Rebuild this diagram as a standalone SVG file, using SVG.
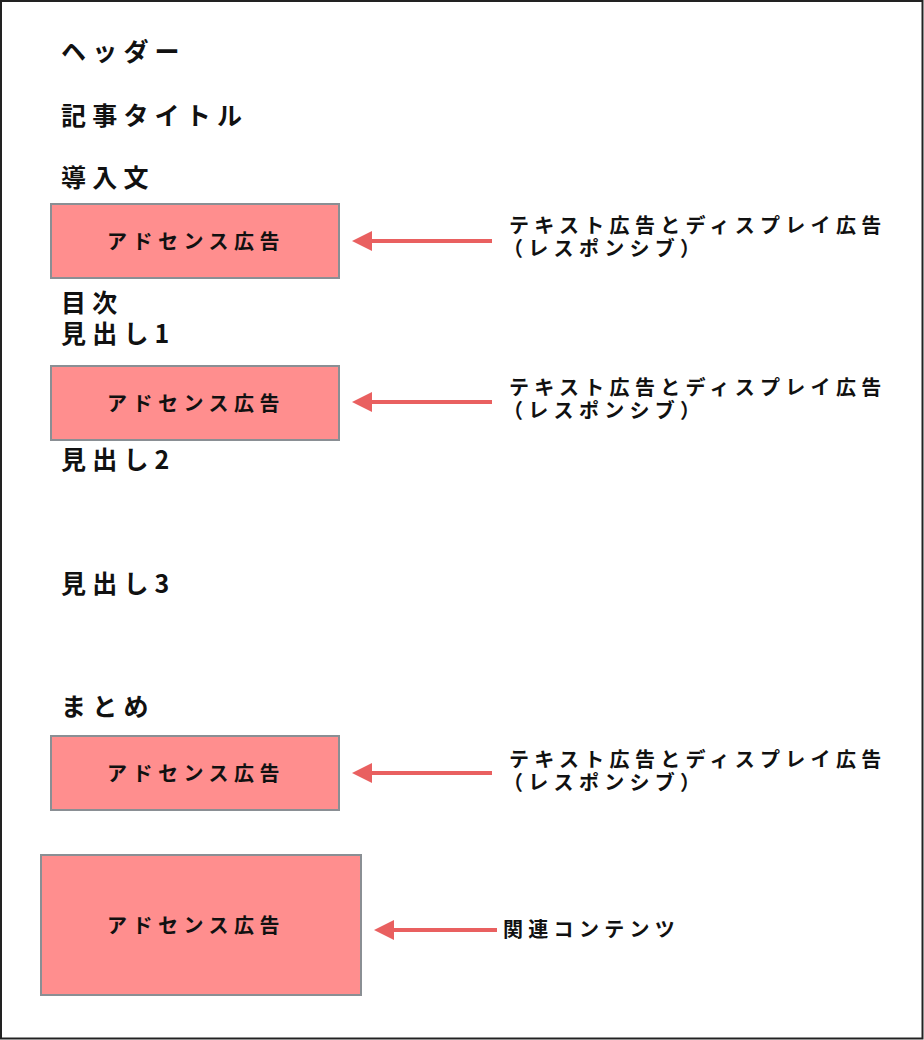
<svg xmlns="http://www.w3.org/2000/svg" width="924" height="1040" viewBox="0 0 924 1040">
<style>
text{font-family:"Noto Sans CJK JP","Noto Sans",sans-serif;font-weight:bold;fill:#111}
.h{font-size:25px;letter-spacing:6.2px}
.b{font-size:20px;letter-spacing:5.5px}
.r{font-size:20px;letter-spacing:5.3px}
.ad{fill:#ff8e8e;stroke:#8a8f94;stroke-width:2}
.arr{stroke:#e96060;stroke-width:4;fill:none;marker-end:url(#ah)}
</style>
<defs>
<marker id="ah" viewBox="0 0 20 20" refX="2" refY="10" markerWidth="20" markerHeight="20" markerUnits="userSpaceOnUse" orient="auto">
<path d="M0,0 L20,10 L0,20 Z" fill="#e96060"/>
</marker>
</defs>
<rect x="1" y="1" width="921.5" height="1037.5" fill="#fff" stroke="#222" stroke-width="2"/>
<g id="headings">
<text class="h" x="61" y="61">ヘッダー</text>
<text class="h" x="61" y="125">記事タイトル</text>
<text class="h" x="61" y="187">導入文</text>
<text class="h" x="61" y="312">目次</text>
<text class="h" x="61" y="343">見出し1</text>
<text class="h" x="61" y="469">見出し2</text>
<text class="h" x="61" y="593">見出し3</text>
<text class="h" x="61" y="716">まとめ</text>
</g>
<g id="ad1"><rect class="ad" x="51" y="204" width="288" height="74"/><text class="b" x="196" y="249" text-anchor="middle">アドセンス広告</text></g>
<g id="ad2"><rect class="ad" x="51" y="366" width="288" height="74"/><text class="b" x="196" y="411" text-anchor="middle">アドセンス広告</text></g>
<g id="ad3"><rect class="ad" x="51" y="736" width="288" height="74"/><text class="b" x="196" y="781" text-anchor="middle">アドセンス広告</text></g>
<g id="ad4"><rect class="ad" x="41" y="855" width="320" height="140"/><text class="b" x="196" y="933" text-anchor="middle">アドセンス広告</text></g>
<g id="label1"><text class="r" x="509" y="233">テキスト広告とディスプレイ広告<tspan x="503" y="256">（レスポンシブ）</tspan></text></g>
<g id="label2"><text class="r" x="509" y="395">テキスト広告とディスプレイ広告<tspan x="503" y="418">（レスポンシブ）</tspan></text></g>
<g id="label3"><text class="r" x="509" y="767">テキスト広告とディスプレイ広告<tspan x="503" y="790">（レスポンシブ）</tspan></text></g>
<g id="label4"><text class="r" x="503" y="937">関連コンテンツ</text></g>
<g id="connectors">
<line class="arr" x1="492" y1="241" x2="370" y2="241"/>
<line class="arr" x1="492" y1="402" x2="370" y2="402"/>
<line class="arr" x1="492" y1="773" x2="370" y2="773"/>
<line class="arr" x1="497" y1="930" x2="392" y2="930"/>
</g>
</svg>
